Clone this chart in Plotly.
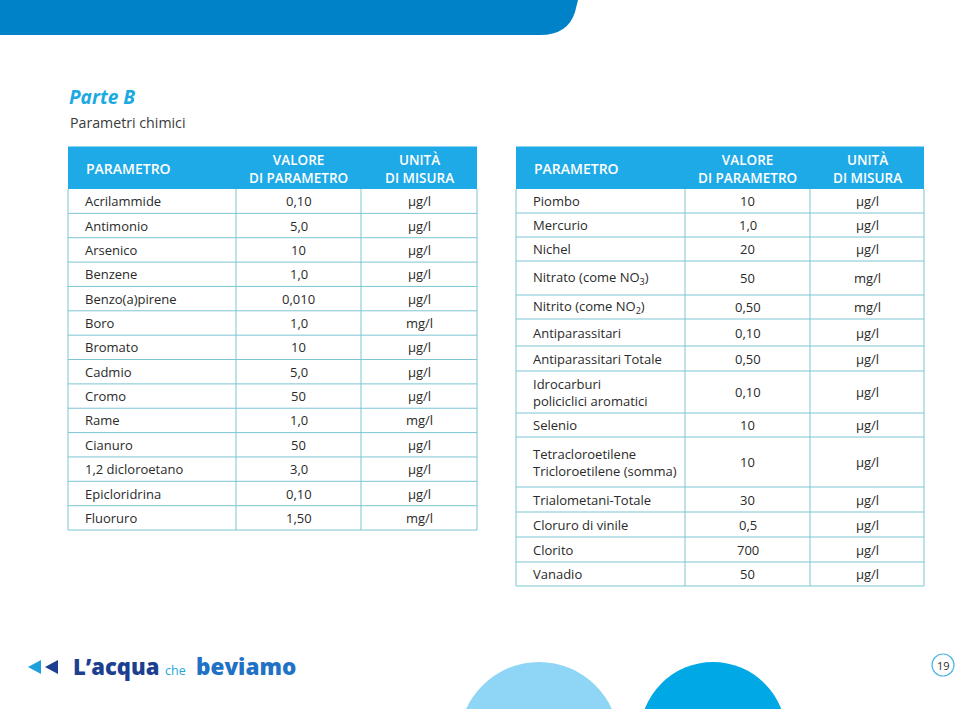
import plotly.graph_objects as go

# ---------------- data ----------------
left_params = ["Acrilammide", "Antimonio", "Arsenico", "Benzene", "Benzo(a)pirene", "Boro",
               "Bromato", "Cadmio", "Cromo", "Rame", "Cianuro", "1,2 dicloroetano",
               "Epicloridrina", "Fluoruro"]
left_values = ["0,10", "5,0", "10", "1,0", "0,010", "1,0", "10", "5,0", "50", "1,0", "50",
               "3,0", "0,10", "1,50"]
left_units = ["µg/l", "µg/l", "µg/l", "µg/l", "µg/l", "mg/l", "µg/l", "µg/l", "µg/l", "mg/l",
              "µg/l", "µg/l", "µg/l", "mg/l"]

right_params = ["Piombo", "Mercurio", "Nichel", "Nitrato (come NO<sub>3</sub>)",
                "Nitrito (come NO<sub>2</sub>)", "Antiparassitari", "Antiparassitari Totale",
                "Idrocarburi<br>policiclici aromatici", "Selenio",
                "Tetracloroetilene<br>Tricloroetilene (somma)", "Trialometani-Totale",
                "Cloruro di vinile", "Clorito", "Vanadio"]
right_values = ["10", "1,0", "20", "50", "0,50", "0,10", "0,50", "0,10", "10", "10", "30",
                "0,5", "700", "50"]
right_units = ["µg/l", "µg/l", "µg/l", "mg/l", "mg/l", "µg/l", "µg/l", "µg/l", "µg/l", "µg/l",
               "µg/l", "µg/l", "µg/l", "µg/l"]

header_labels = ["PARAMETRO", "VALORE<br>DI PARAMETRO", "UNITÀ<br>DI MISURA"]
title_text = "Parte B"
subtitle_text = "Parametri chimici"
page_number = "19"

# ---------------- layout / style ----------------
W, H = 960, 709
FONT = "Open Sans"
TXT = "#2a2a2a"
HEAD_BG = "#1eaae7"
BORDER = "#7cc5d4"
BODY_SIZE = 13

left_cols = [68, 236, 361, 477]
right_cols = [516, 685, 810, 924]
header_top, header_bottom = 146.5, 189
left_row_h = [24.36] * len(left_params)
right_row_h = [24, 24, 24, 34, 24, 27, 25, 42, 24, 50, 25, 25, 25, 24]

fig = go.Figure()
shapes = []
annotations = []


def text(x, y, s, size=BODY_SIZE, color=TXT, anchor="left", weight=400, style="normal", family=FONT):
    annotations.append(dict(x=x, y=y, xref="x", yref="y", text=s, showarrow=False,
                            xanchor=anchor, yanchor="middle", align=anchor,
                            font=dict(family=family, size=size, color=color, weight=weight, style=style)))


def draw_table(cols, row_h, params, values, units):
    x0, x1, x2, x3 = cols
    # header
    shapes.append(dict(type="rect", xref="x", yref="y", x0=x0, x1=x3, y0=header_top, y1=header_bottom,
                       fillcolor=HEAD_BG, line=dict(width=0), layer="below"))
    hy = (header_top + header_bottom) / 2 + 1
    text(x0 + 16, hy, header_labels[0], size=14, color="white", weight=600)
    text((x1 + x2) / 2, hy, header_labels[1], size=13.5, color="white", weight=600, anchor="center")
    text((x2 + x3) / 2, hy, header_labels[2], size=13.5, color="white", weight=600, anchor="center")
    # rows
    y = header_bottom
    for i, h in enumerate(row_h):
        yc = y + h / 2
        text(x0 + 15, yc, params[i])
        text((x1 + x2) / 2, yc, values[i], anchor="center")
        text((x2 + x3) / 2, yc, units[i], anchor="center")
        y += h
        shapes.append(dict(type="line", xref="x", yref="y", x0=x0, x1=x3, y0=y, y1=y,
                           line=dict(color=BORDER, width=1)))
    bottom = y
    for xv in (x0, x1, x2, x3):
        shapes.append(dict(type="line", xref="x", yref="y", x0=xv, x1=xv, y0=header_bottom, y1=bottom,
                           line=dict(color=BORDER, width=1)))


draw_table(left_cols, left_row_h, left_params, left_values, left_units)
draw_table(right_cols, right_row_h, right_params, right_values, right_units)

# top banner
shapes.append(dict(type="path", xref="x", yref="y",
                   path="M 0 0 L 578 0 L 575 12 Q 568 35 540 35 L 0 35 Z",
                   fillcolor="#0082c8", line=dict(width=0)))

# title
text(67, 97, f"<b><i>{title_text}</i></b>", size=19, color="#1ba9e1")
text(68, 122, subtitle_text, size=14.2, color="#3a3a3a")

# bottom circles
shapes.append(dict(type="circle", xref="x", yref="y", x0=459, x1=619, y0=662, y1=822,
                   fillcolor="#8fd6f6", line=dict(width=0)))
shapes.append(dict(type="circle", xref="x", yref="y", x0=640, x1=786, y0=662, y1=808,
                   fillcolor="#00a8e6", line=dict(width=0)))

# logo arrows
shapes.append(dict(type="path", xref="x", yref="y", path="M 28 667 L 41 660 L 41 674 Z",
                   fillcolor="#1ea0dc", line=dict(width=0)))
shapes.append(dict(type="path", xref="x", yref="y", path="M 45 667 L 58 660 L 58 674 Z",
                   fillcolor="#1c3f8f", line=dict(width=0)))
text(71, 666, "L’acqua", size=22, color="#1c3f8f", weight=800)
text(163, 670, "che", size=12.5, color="#22a6e0")
text(194, 666, "beviamo", size=22.5, color="#1f72c4", weight=800)

# page number
shapes.append(dict(type="circle", xref="x", yref="y", x0=932, x1=954, y0=654, y1=676,
                   fillcolor="white", line=dict(color="#4fb6e2", width=1.2)))
text(943, 665.5, page_number, size=11, color="#2e2e2e", anchor="center")

fig.update_layout(
    width=W, height=H, margin=dict(l=0, r=0, t=0, b=0),
    paper_bgcolor="white", plot_bgcolor="white",
    xaxis=dict(range=[0, W], visible=False, fixedrange=True),
    yaxis=dict(range=[H, 0], visible=False, fixedrange=True),
    shapes=shapes, annotations=annotations, showlegend=False,
)

fig.write_html("out.html", config={"displayModeBar": False},
               post_script="document.body.style.margin='0';document.body.style.overflow='hidden';")
